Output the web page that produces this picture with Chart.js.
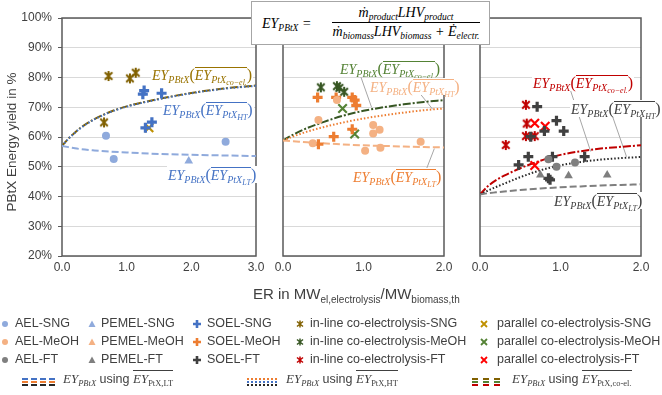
<!DOCTYPE html>
<html><head><meta charset="utf-8">
<script src="https://cdn.jsdelivr.net/npm/chart.js@4.4.1/dist/chart.umd.min.js"></script>
<style>
body{margin:0;background:#fff;}
#wrap{position:relative;width:662px;height:395px;overflow:hidden;font-family:"Liberation Sans",Arial,sans-serif;color:#404040;background:#fff;}
canvas{position:absolute;left:0;top:0;}
.lab{position:absolute;white-space:nowrap;font-family:"Liberation Serif","DejaVu Serif",serif;font-style:italic;font-size:14px;background:#fff;line-height:15px;padding:1px 1px 0 1px;}
.lab sub{font-size:10px;vertical-align:-3px;line-height:0;}
.lab sub sub{font-size:8px;vertical-align:-2px;}
.ov{border-top:1px solid currentColor;}
.par{font-size:16px;font-style:normal;}
#formula{position:absolute;left:251px;top:1px;width:237px;height:42px;border:1px solid #a6a6a6;background:#fff;font-family:"Liberation Serif",serif;font-style:italic;font-size:14px;color:#000;}
#formula div{white-space:nowrap;}
#formula sub{font-size:9.5px;vertical-align:-3px;line-height:0;}
.leg{position:absolute;font-size:12.5px;white-space:nowrap;color:#404040;line-height:14px;}
.mk{position:absolute;}
.gl{position:absolute;height:0;}
.mt{font-family:"Liberation Serif",serif;font-style:italic;font-size:13px;color:#404040;}
.mt sub{font-size:8.5px;vertical-align:-3px;line-height:0;}
</style></head>
<body><div id="wrap">
<canvas id="c1" width="662" height="395"></canvas>
<canvas id="c2" width="662" height="395"></canvas>
<canvas id="c3" width="662" height="395"></canvas>
<div id="overlay"></div>
</div>
<script>
// ---------- data ----------
const curveX1 = [0,0.1,0.2,0.3,0.5,0.75,1,1.5,2,2.5,3];
const sngCoEl = [57,59.5,61.5,63.3,66,68.5,70.3,72.8,74.8,76.3,77.3];
const sngHT   = [57,59.4,61.4,63.2,65.9,68.4,70.2,72.7,74.7,76.2,77.2];
const sngLT   = [57,56.6,56.2,55.9,55.5,55.1,54.8,54.3,54.0,53.8,53.6];
const curveX23 = [0,0.1,0.2,0.3,0.5,0.75,1,1.25,1.5,1.75,2];
const meohCoEl = [58.8,60.4,61.8,63,65,67.2,68.8,70,71,71.8,72.4];
const meohHT   = [58.8,59.9,60.9,61.8,63.3,64.9,66.2,67.3,68.2,69,69.6];
const meohLT   = [58.8,58.6,58.4,58.2,57.9,57.5,57.2,57,56.8,56.6,56.5];
const ftCoEl = [40.7,43.5,45.5,47,49.5,52,54,55.2,56.1,56.7,57.2];
const ftHT   = [40.7,42,43.2,44.3,46.5,48.8,50.5,51.6,52.4,52.9,53.3];
const ftLT   = [40.7,41.1,41.4,41.7,42.2,42.7,43.1,43.4,43.7,43.9,44.1];

const aelSng = [[0.68,60.4],[0.80,52.6],[2.53,58.4]];
const pemelSng = [[1.96,51.9]];
const soelSng = [[1.25,74.4],[1.27,75.6],[1.54,74.7],[1.39,65.0],[1.29,63.1]];
const inlineSng = [[0.72,80.5],[0.65,64.9],[1.05,79.7],[1.14,81.6]];
const parallelSng = [[1.345,63.1]];

const aelMeoh = [[0.44,65.7],[0.37,57.9],[0.67,72.4],[1.02,55.4],[1.12,64.0],[1.12,61.2],[1.2,62.4],[1.21,56.4],[1.71,58.4]];
const pemelMeoh = [];
const soelMeoh = [[0.43,73.3],[0.66,73.3],[0.86,73.3],[0.89,72.4],[0.91,70.6],[0.86,62.6],[0.63,60.1],[0.44,57.6]];
const inlineMeoh = [[0.47,76.7],[0.67,77.1],[0.7,76.5],[0.76,75.2]];
const parallelMeoh = [[0.74,69.6],[0.89,61]];

const aelFt = [[0.85,52.5],[0.95,50],[1.18,51.4]];
const pemelFt = [[0.75,47.2],[1.1,47],[1.58,47.2]];
const soelFt = [[0.71,70.2],[0.95,65.5],[0.8,62],[1.04,62],[0.63,60.1],[0.6,53.4],[0.48,50.6],[0.9,53.4],[1.3,53.4],[0.85,46.1],[0.87,45.6]];
const inlineFt = [[0.57,70.8],[0.32,57.3],[0.58,64.5],[0.57,60.3],[0.68,60.3]];
const parallelFt = [[0.68,64.6],[0.81,63.6],[0.68,50.4]];

const yTicks = [20,30,40,50,60,70,80,90,100];

// ---------- helpers ----------
const pts = a => a.map(p => ({x:p[0], y:p[1]}));
const curve = (xs, ys) => xs.map((x,i) => ({x, y:ys[i]}));
function starImg(color, r, w){
  const c = document.createElement('canvas'); const s = Math.ceil(2*r+w+2);
  c.width = s; c.height = s; const g = c.getContext('2d'); const m = s/2;
  g.strokeStyle = color; g.lineWidth = w; g.beginPath();
  const d = r*0.75;
  g.moveTo(m-d,m-d); g.lineTo(m+d,m+d); g.moveTo(m+d,m-d); g.lineTo(m-d,m+d);
  g.moveTo(m,m-r); g.lineTo(m,m+r); g.stroke();
  return c;
}
function scatterSet(data, style, color, r, bw, fill){
  return {data:pts(data), showLine:false, pointStyle:style, pointRadius:r, pointHoverRadius:r,
    pointBackgroundColor: fill===false ? 'rgba(0,0,0,0)' : color, pointBorderColor:color, pointBorderWidth:bw, order:1};
}
function lineSet(data, color, dash, w){
  return {data, showLine:true, pointRadius:0, borderColor:color, borderWidth:w||2, borderDash:dash,
    cubicInterpolationMode:'monotone', fill:false, order:5};
}
const frame = {
  id:'frame',
  beforeDatasetsDraw(chart, args, opts){
    const {ctx, chartArea:a, scales} = chart;
    ctx.save();
    (opts.leaders||[]).forEach(l => {
      ctx.strokeStyle = '#a6a6a6'; ctx.lineWidth = 1; ctx.beginPath();
      ctx.moveTo(scales.x.getPixelForValue(l[0]), scales.y.getPixelForValue(l[1]));
      ctx.lineTo(scales.x.getPixelForValue(l[2]), scales.y.getPixelForValue(l[3]));
      ctx.stroke();
    });
    ctx.strokeStyle = '#595959'; ctx.lineWidth = 1.5;
    ctx.strokeRect(a.left, a.top, a.right-a.left, a.bottom-a.top);
    ctx.restore();
  }
};
const tickFont = {family:'"Liberation Sans", Arial, sans-serif', size:12};
function makeChart(id, datasets, xMax, left, right, showY, leaders){
  return new Chart(document.getElementById(id), {
    type:'scatter',
    data:{datasets},
    options:{
      responsive:false, animation:false, events:[],
      layout:{padding:{left: showY?0:left, right, top:18, bottom:0}},
      plugins:{legend:{display:false}, tooltip:{enabled:false}, frame:{leaders}},
      scales:{
        x:{type:'linear', min:0, max:xMax,
           ticks:{stepSize:1, callback:v=>v.toFixed(1), font:tickFont, color:'#404040', padding:4, maxRotation:0},
           grid:{display:false, drawTicks:false}, border:{display:false},
           afterFit:s=>{s.height = 139;}},
        y:{type:'linear', min:20, max:100, afterBuildTicks:s=>{s.ticks = yTicks.map(v=>({value:v}));},
           ticks:{display:showY, callback:v=>v+'%', font:tickFont, color:'#404040', padding:6},
           grid:{color:'#d9d9d9', lineWidth:1, drawTicks:showY, tickLength:4, tickColor:'#595959'},
           border:{display:false},
           afterFit:s=>{s.width = showY ? 62 : 0;}}
      }
    },
    plugins:[frame]
  });
}

// colours
const C = {
  sngL:'#8faadc', sngD:'#4472c4', sngIn:'#806000', sngPar:'#bf9000',
  meL:'#f4b183', meD:'#ed7d31', meIn:'#375623', mePar:'#548235',
  ftL:'#7f7f7f', ftD:'#404040', ftIn:'#c00000', ftPar:'#ff0000'
};

makeChart('c1', [
  scatterSet(aelSng,'circle',C.sngL,4,0),
  scatterSet(pemelSng,'triangle',C.sngL,5,0),
  scatterSet(soelSng,'cross',C.sngD,5,3.2),
  scatterSet(inlineSng,starImg(C.sngIn,5,2),C.sngIn,5,0),
  scatterSet(parallelSng,'crossRot',C.sngPar,6,2.2),
  lineSet(curve(curveX1,sngLT),C.sngL,[7,3],2),
  lineSet(curve(curveX1,sngHT),C.sngD,[1.5,2],2),
  lineSet(curve(curveX1,sngCoEl),C.sngIn,[8,2,2,2],2)
], 3, 0, 406, true, []);

makeChart('c2', [
  scatterSet(aelMeoh,'circle',C.meL,4,0),
  scatterSet(pemelMeoh,'triangle',C.meL,5,0),
  scatterSet(soelMeoh,'cross',C.meD,5,3.2),
  scatterSet(inlineMeoh,starImg(C.meIn,5,2),C.meIn,5,0),
  scatterSet(parallelMeoh,'crossRot',C.mePar,6,2.2),
  lineSet(curve(curveX23,meohLT),C.meL,[7,3],2),
  lineSet(curve(curveX23,meohHT),C.meD,[1.5,2],2),
  lineSet(curve(curveX23,meohCoEl),C.meIn,[8,2,2,2],2)
], 2, 283, 662-444, false, [[0.915,84.2,1.10,70.0],[1.66,76.0,1.86,69.3],[1.88,56.1,1.78,49.1]]);

makeChart('c3', [
  scatterSet(aelFt,'circle',C.ftL,4,0),
  scatterSet(pemelFt,'triangle',C.ftL,5,0),
  scatterSet(soelFt,'cross',C.ftD,5,3.2),
  scatterSet(inlineFt,starImg(C.ftIn,5,2),C.ftIn,5,0),
  scatterSet(parallelFt,'crossRot',C.ftPar,6,2.2),
  lineSet(curve(curveX23,ftLT),C.ftL,[7,3],2),
  lineSet(curve(curveX23,ftHT),'#262626',[1.5,2],2),
  lineSet(curve(curveX23,ftCoEl),C.ftIn,[8,2,2,2],2)
], 2, 480, 662-641, false, [[1.12,76.0,1.375,55.1],[1.64,67.4,1.82,53.4]]);

// ---------- overlay text ----------
function lab(x, y, color, sub){
  return `<div class="lab" style="left:${x}px;top:${y}px;color:${color}"><i>EY</i><sub>PBtX</sub><span class="par">(</span><span class="ov"><i>EY</i><sub>PtX<sub>${sub}</sub></sub></span><span class="par">)</span></div>`;
}
function marker(x, y, kind, color){
  let s = '';
  if(kind==='circle') s = `<circle cx="5" cy="5" r="3" fill="${color}"/>`;
  if(kind==='tri') s = `<polygon points="5,1.5 8.5,8 1.5,8" fill="${color}"/>`;
  if(kind==='plus') s = `<path d="M5 1V9M1 5H9" stroke="${color}" stroke-width="2.6"/>`;
  if(kind==='x') s = `<path d="M2 2L8 8M8 2L2 8" stroke="${color}" stroke-width="1.8"/>`;
  if(kind==='star') s = `<path d="M2 2.5L8 7.5M8 2.5L2 7.5M5 1.5V8.5" stroke="${color}" stroke-width="1.5"/>`;
  return `<svg class="mk" style="left:${x-5}px;top:${y-5}px" width="10" height="10">${s}</svg>`;
}
function glines(x, y, w, colors, dash){
  return colors.map((c,i)=>`<div class="gl" style="left:${x}px;top:${y+i*3}px;width:${w}px;border-top:2px ${dash} ${c}"></div>`).join('');
}
let h = '';
h += lab(151,66,'#997300','co−el.');
h += lab(162,101,'#4472c4','HT');
h += lab(167,166,'#4472c4','LT');
h += lab(339,60,'#548235','co−el.');
h += lab(369,78,'#f4b183','HT');
h += lab(352,168,'#ed7d31','LT');
h += lab(532,74,'#c00000','co−el.');
h += lab(570,100,'#404040','HT');
h += lab(553,192,'#404040','LT');
h += `<div id="formula"><div style="position:absolute;left:10px;top:14px"><i>EY</i><sub>PBtX</sub> =</div>
<div style="position:absolute;left:81px;top:3px;width:146px;text-align:center">ṁ<sub>product</sub><i>LHV</i><sub>product</sub></div>
<div style="position:absolute;left:80px;top:20px;width:148px;border-top:1px solid #000"></div>
<div style="position:absolute;left:74px;top:22px;width:160px;text-align:center">ṁ<sub>biomass</sub><i>LHV</i><sub>biomass</sub> + Ė<sub>electr.</sub></div></div>`;
h += `<div class="leg" style="transform:rotate(-90deg);transform-origin:left top;font-size:13.5px;width:142px;text-align:center;top:213px;left:5px">PBtX Energy yield in %</div>`;
h += `<div class="leg" style="left:253px;top:287px;font-size:15px">ER in MW<sub style="font-size:10px">el,electrolysis</sub>/MW<sub style="font-size:10px">biomass,th</sub></div>`;
// legend
const rows = [324,342,360];
const prods = ['SNG','MeOH','FT'];
const cols = [
  {mx:5, tx:15, name:'AEL', kind:'circle', c:[C.sngL,C.meL,C.ftL]},
  {mx:92, tx:101, name:'PEMEL', kind:'tri', c:[C.sngL,C.meL,C.ftL]},
  {mx:197, tx:207, name:'SOEL', kind:'plus', c:[C.sngD,C.meD,C.ftD]},
  {mx:300, tx:310, name:'in-line co-electrolysis', kind:'star', c:[C.sngIn,C.meIn,C.ftIn]},
  {mx:484, tx:497, name:'parallel co-electrolysis', kind:'x', c:[C.sngPar,C.mePar,C.ftPar]}
];
cols.forEach(col => rows.forEach((y,i) => {
  h += marker(col.mx, y, col.kind, col.c[i]);
  h += `<div class="leg" style="left:${col.tx}px;top:${y-8}px">${col.name}-${prods[i]}</div>`;
}));
h += glines(22,378,33,['#4472c4','#ed7d31','#262626'],'dashed');
h += `<div class="leg" style="left:63px;top:372px"><span class="mt"><i>EY</i><sub>PBtX</sub></span> using <span class="mt" style="border-top:1px solid #404040"><i>EY</i><sub style="font-style:normal">PtX,LT</sub></span></div>`;
h += glines(247,378,30,['#ed7d31','#4472c4','#262626'],'dotted');
h += `<div class="leg" style="left:286px;top:372px"><span class="mt"><i>EY</i><sub>PBtX</sub></span> using <span class="mt" style="border-top:1px solid #404040"><i>EY</i><sub style="font-style:normal">PtX,HT</sub></span></div>`;
h += glines(472,378,28,['#806000','#548235','#c00000'],'dashed');
h += `<div class="leg" style="left:512px;top:372px"><span class="mt"><i>EY</i><sub>PBtX</sub></span> using <span class="mt" style="border-top:1px solid #404040"><i>EY</i><sub style="font-style:normal">PtX,co-el.</sub></span></div>`;
document.getElementById('overlay').innerHTML = h;
</script>
</body></html>
